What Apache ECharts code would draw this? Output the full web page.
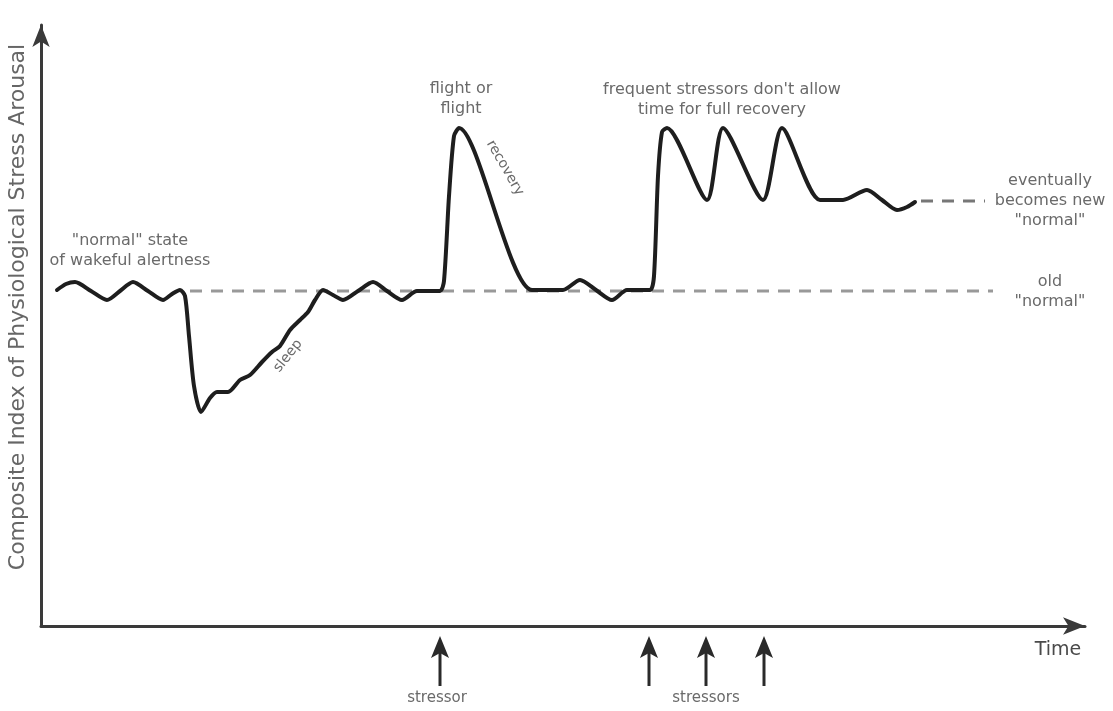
<!DOCTYPE html>
<html>
<head>
<meta charset="utf-8">
<script src="https://cdn.jsdelivr.net/npm/echarts@6/dist/echarts.min.js"></script>
<style>
  html, body { margin: 0; padding: 0; background: #fff; }
  #main { width: 1113px; height: 711px; }
</style>
</head>
<body>
<div id="main"></div>
<script>
// time (x) and arousal (y)
var arousalCurve = [
  [16, 336], [25, 342], [34, 344], [50, 335], [66, 326], [79, 335], [92, 344],
  [107, 335], [122, 326], [131, 332], [139, 336],
  [144, 330], [148, 290], [153, 240], [160, 214],
  [169, 228], [176, 234], [187, 234], [199, 246], [209, 251], [221, 264],
  [231, 274], [239, 280], [249, 296], [259, 306], [267, 314], [274, 326],
  [282, 336], [292, 331], [302, 326], [317, 335], [332, 344], [346, 335], [361, 326],
  [376, 335], [399, 335],
  [403, 345], [408, 430], [413, 490], [418, 498], [491, 336],
  [522, 336], [539, 346], [555, 336], [571, 326], [586, 336], [609, 336],
  [613, 350], [617, 450], [621, 494], [626, 498], [666, 426], [682, 498],
  [722, 426], [741, 498], [779, 426], [802, 426], [826, 436], [841, 426],
  [856, 416], [866, 419], [874, 424]
];
var oldNormal = [[149, 335], [952, 335]];
var newNormal = [[880, 425], [944, 425]];
var stressorTimes = [399, 608, 665, 723];

var chart = echarts.init(document.getElementById('main'));

var option = {
  animation: false,
  backgroundColor: '#fff',
  grid: { left: 41, right: 28, top: 25, bottom: 85 },
  xAxis: {
    type: 'value', min: 0, max: 1044,
    axisLine: { show: true, symbol: ['none', 'arrow'], symbolSize: [13, 22],
      lineStyle: { color: '#3a3a3a', width: 3 } },
    axisTick: { show: false }, axisLabel: { show: false }, splitLine: { show: false }
  },
  yAxis: {
    type: 'value', min: 0, max: 601,
    axisLine: { show: true, symbol: ['none', 'arrow'], symbolSize: [13, 22],
      lineStyle: { color: '#3a3a3a', width: 3 } },
    axisTick: { show: false }, axisLabel: { show: false }, splitLine: { show: false }
  },
  series: [
    {
      name: 'old normal', type: 'line', data: oldNormal, symbol: 'none', silent: true,
      lineStyle: { color: '#999', width: 3, type: [12, 9] }, z: 1
    },
    {
      name: 'new normal', type: 'line', data: newNormal, symbol: 'none', silent: true,
      lineStyle: { color: '#777', width: 3, type: [12, 9] }, z: 1
    },
    {
      name: 'arousal', type: 'line', data: arousalCurve, symbol: 'none',
      smooth: 0.25,
      lineStyle: { color: '#1e1e1e', width: 4, cap: 'round', join: 'round' }, z: 3
    }
  ]
};
chart.setOption(option);

var txt = { fill: '#6a6a6a', font: '16px "DejaVu Sans"', align: 'center', lineHeight: 20 };
function label(x, y, text, rot, extra) {
  var st = Object.assign({}, txt, { text: text, verticalAlign: 'middle' }, extra || {});
  return { type: 'text', x: x, y: y, rotation: rot || 0, style: st, z: 10 };
}

var graphics = [
  label(130, 251, '"normal" state\nof wakeful alertness'),
  label(288, 356, 'sleep', 0.9, { font: '14px "DejaVu Sans"' }),
  label(461, 99, 'flight or\nflight'),
  label(505, 168, 'recovery', -1.05, { font: '14px "DejaVu Sans"' }),
  label(722, 100, 'frequent stressors don\'t allow\ntime for full recovery'),
  label(1050, 201, 'eventually\nbecomes new\n"normal"'),
  label(1050, 292, 'old\n"normal"'),
  label(1058, 650, 'Time', 0, { font: '19px "DejaVu Sans"', fill: '#4a4a4a' }),
  label(18, 307, 'Composite Index of Physiological Stress Arousal', Math.PI / 2,
    { font: '22px "DejaVu Sans"', fill: '#666' }),
  label(437, 698, 'stressor', 0, { font: '15px "DejaVu Sans"' }),
  label(706, 698, 'stressors', 0, { font: '15px "DejaVu Sans"' })
];

stressorTimes.forEach(function (t) {
  var px = chart.convertToPixel({ gridIndex: 0 }, [t, 0])[0];
  graphics.push({
    type: 'line', shape: { x1: px, y1: 686, x2: px, y2: 650 },
    style: { stroke: '#2a2a2a', lineWidth: 3 }, z: 10
  });
  graphics.push({
    type: 'polygon', shape: { points: [[px, 636], [px - 9, 658], [px, 653], [px + 9, 658]] },
    style: { fill: '#2a2a2a' }, z: 10
  });
});

chart.setOption({ graphic: graphics });
</script>
</body>
</html>
